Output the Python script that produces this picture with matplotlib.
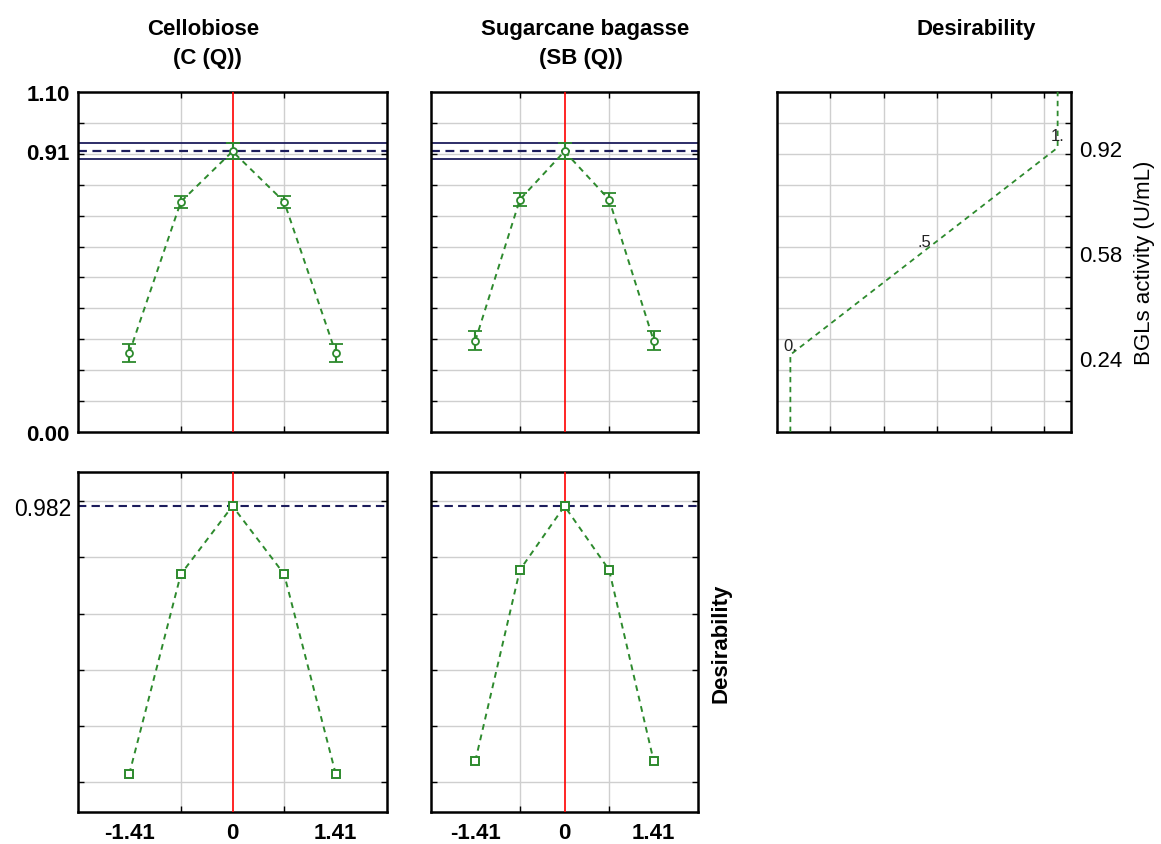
import matplotlib
matplotlib.use("Agg")
import matplotlib.pyplot as plt
import numpy as np

plt.rcParams['font.family'] = ['Liberation Sans', 'DejaVu Sans']

# ---------------- data ----------------
x_levels = [-1.41, -0.705, 0.0, 0.705, 1.41]
x_tick_vals = [-1.41, 0.0, 1.41]
x_tick_labels = ['-1.41', '0', '1.41']

cellobiose_bgl = [0.256, 0.745, 0.908, 0.745, 0.256]
cellobiose_err = [0.029, 0.020, 0.026, 0.020, 0.029]
bagasse_bgl = [0.295, 0.752, 0.908, 0.752, 0.295]
bagasse_err = [0.031, 0.020, 0.026, 0.020, 0.031]

cellobiose_des = [0.030, 0.740, 0.982, 0.740, 0.030]
bagasse_des = [0.076, 0.755, 0.982, 0.755, 0.076]

bgl_pred = 0.908
bgl_ci_low = 0.882
bgl_ci_high = 0.934
des_overall = 0.982

bgl_tick_vals = [0.00, 0.91, 1.10]
bgl_tick_labels = ['0.00', '0.91', '1.10']
bgl_grid = [0.1 * i for i in range(1, 11)]
des_grid = [0.0, 0.2, 0.4, 0.6, 0.8, 1.0]

# desirability function for BGLs activity
desfun_d = [0.0, 0.0, 1.0, 1.0]
desfun_bgl = [0.0, 0.25, 0.92, 1.10]
desfun_labels = ['0.', '.5', '1.']
desfun_label_d = [0.0, 0.5, 1.0]
desfun_label_bgl = [0.28, 0.616, 0.959]
desfun_right_ticks = [0.24, 0.58, 0.92]
desfun_x_grid = [0.15, 0.35, 0.55, 0.75, 0.95]

col_title_line1 = ['Cellobiose', 'Sugarcane bagasse', 'Desirability']
col_title_line2 = ['(C (Q))', '(SB (Q))', '']

# ---------------- style ----------------
GREEN = '#2d8a2d'
NAVY = '#1c1c5c'
GRIDC = '#cfcfcf'
FS = 16
W, H = 1161, 845
fig = plt.figure(figsize=(W / 100, H / 100), dpi=100)


def px_axes(x0, y0, x1, y1):
    return fig.add_axes([x0 / W, 1 - y1 / H, (x1 - x0) / W, (y1 - y0) / H])


def style_frame(ax):
    for s in ax.spines.values():
        s.set_linewidth(1.8)
        s.set_color('black')
    ax.set_axisbelow(True)


def setup_profile(ax, ylim, ygrid, bottom_labels):
    style_frame(ax)
    ax.set_xlim(-2.11, 2.11)
    ax.set_ylim(*ylim)
    ax.set_xticks(x_levels, minor=True)
    ax.set_yticks(ygrid, minor=True)
    ax.grid(which='minor', color=GRIDC, lw=1.0)
    ax.tick_params(which='minor', direction='in', length=4, width=1,
                   top=True, bottom=True, left=True, right=True)
    ax.set_xticks(x_tick_vals)
    if bottom_labels:
        ax.set_xticklabels(x_tick_labels, fontsize=FS, fontweight='bold')
    else:
        ax.set_xticklabels([])
    ax.tick_params(which='major', length=0, pad=7)
    ax.axvline(0, color='red', lw=1.2, zorder=3)


# top row
ax1 = px_axes(78, 93, 387, 433)
ax2 = px_axes(431, 93, 698, 433)
ax3 = px_axes(777, 93, 1071, 433)
# bottom row
ax4 = px_axes(78, 473, 387, 813)
ax5 = px_axes(431, 473, 698, 813)

for ax, yv, ye in [(ax1, cellobiose_bgl, cellobiose_err), (ax2, bagasse_bgl, bagasse_err)]:
    setup_profile(ax, (0, 1.10), bgl_grid, False)
    ax.axhline(bgl_ci_high, color=NAVY, lw=1.3, zorder=2)
    ax.axhline(bgl_ci_low, color=NAVY, lw=1.3, zorder=2)
    ax.axhline(bgl_pred, color=NAVY, lw=1.6, ls=(0, (4, 2.5)), zorder=2)
    ax.plot(x_levels, yv, color=GREEN, lw=1.4, ls=(0, (3, 2.5)), zorder=4)
    ax.errorbar(x_levels, yv, yerr=ye, fmt='o', ms=5, mfc='white', mec=GREEN,
                mew=1.3, ecolor=GREEN, elinewidth=1.5, capsize=5, capthick=1.5, zorder=5)

ax1.set_yticks(bgl_tick_vals)
ax1.set_yticklabels(bgl_tick_labels, fontsize=FS, fontweight='bold')
ax1.tick_params(axis='y', which='major', pad=6)
ax2.set_yticks(bgl_tick_vals)
ax2.set_yticklabels([])

for ax, yv in [(ax4, cellobiose_des), (ax5, bagasse_des)]:
    setup_profile(ax, (-0.105, 1.103), des_grid, True)
    ax.axhline(des_overall, color=NAVY, lw=1.5, ls=(0, (4, 2.5)), zorder=2)
    ax.plot(x_levels, yv, color=GREEN, lw=1.4, ls=(0, (3, 2.5)), zorder=4)
    ax.plot(x_levels, yv, ls='none', marker='s', ms=5.5, mfc='white',
            mec=GREEN, mew=1.4, zorder=5)

ax4.set_yticks([des_overall])
ax4.set_yticklabels(['0.982'], fontsize=FS + 0.5)
ax4.tick_params(axis='y', which='major', pad=5)
ax5.set_yticks([des_overall])
ax5.set_yticklabels([])
ax5.yaxis.set_label_position('right')
ax5.set_ylabel('Desirability', fontsize=FS, fontweight='bold', labelpad=9)

# desirability function panel
style_frame(ax3)
ax3.set_xlim(-0.05, 1.05)
ax3.set_ylim(0, 1.10)
ax3.set_xticks(desfun_x_grid, minor=True)
ax3.set_yticks(bgl_grid, minor=True)
ax3.grid(which='minor', color=GRIDC, lw=1.0)
ax3.tick_params(which='minor', direction='in', length=4, width=1,
                top=True, bottom=True, left=True, right=True)
ax3.set_xticks([])
ax3.yaxis.tick_right()
ax3.set_yticks(desfun_right_ticks)
ax3.set_yticklabels([f'{v:.2f}' for v in desfun_right_ticks], fontsize=FS)
ax3.tick_params(axis='y', which='major', length=0, pad=6)
ax3.yaxis.set_label_position('right')
ax3.set_ylabel('BGLs activity (U/mL)', fontsize=FS, labelpad=8)
ax3.plot(desfun_d, desfun_bgl, color=GREEN, lw=1.3, ls=(0, (3, 2.5)), zorder=4)
for t, dx, dy in zip(desfun_labels, desfun_label_d, desfun_label_bgl):
    ax3.text(dx, dy, t, fontsize=12, ha='center', va='center', color='#222222', zorder=5)

# column titles
title_x1 = [203, 585, 976]
title_x2 = [207, 581, 976]
for t1, t2, x1, x2 in zip(col_title_line1, col_title_line2, title_x1, title_x2):
    fig.text(x1 / W, 1 - 35 / H, t1, ha='center', va='baseline', fontsize=FS,
             fontweight='bold')
    if t2:
        fig.text(x2 / W, 1 - 64 / H, t2, ha='center', va='baseline', fontsize=FS,
                 fontweight='bold')

fig.savefig('out.png', dpi=100)
